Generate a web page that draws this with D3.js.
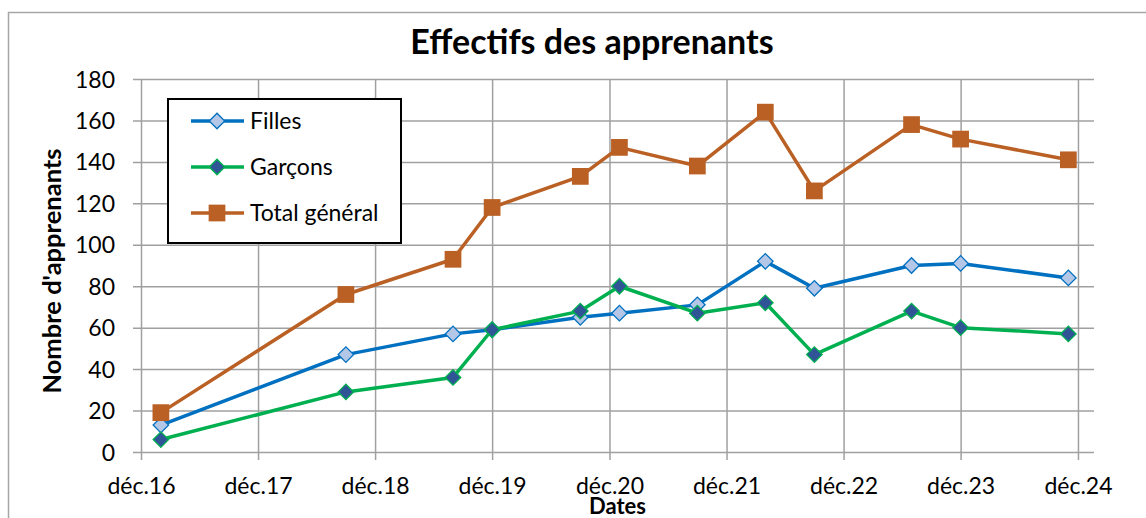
<!DOCTYPE html>
<html>
<head>
<meta charset="utf-8">
<script src="https://cdn.jsdelivr.net/npm/d3@7"></script>
<style>
  body { margin: 0; background: #fff; }
  text { font-family: Lato, "Open Sans", sans-serif; fill: #000; }
</style>
</head>
<body>
<svg id="chart" width="1146" height="518"></svg>
<script>
// data
const dates = ["2017-02-01", "2018-09-01", "2019-08-01", "2019-12-01", "2020-09-01", "2021-01-01",
               "2021-09-01", "2022-04-01", "2022-09-01", "2023-07-01", "2023-12-01", "2024-11-01"];
const filles  = [13, 47, 57, 59, 65, 67, 71, 92, 79, 90, 91, 84];
const garcons = [6, 29, 36, 59, 68, 80, 67, 72, 47, 68, 60, 57];
const total   = [19, 76, 93, 118, 133, 147, 138, 164, 126, 158, 151, 141];

const xTickDates  = ["2016-12-01", "2017-12-01", "2018-12-01", "2019-12-01", "2020-12-01",
                     "2021-12-01", "2022-12-01", "2023-12-01", "2024-12-01"];
const xTickLabels = ["déc.16", "déc.17", "déc.18", "déc.19", "déc.20", "déc.21", "déc.22", "déc.23", "déc.24"];
const yTicks = [0, 20, 40, 60, 80, 100, 120, 140, 160, 180];

const parse = d3.timeParse("%Y-%m-%d");

var svg = d3.select("#chart"),
    margin = {top: 79, right: 52, bottom: 66, left: 141},
    width = +svg.attr("width") - margin.left - margin.right,
    height = +svg.attr("height") - margin.top - margin.bottom;

// outer chart border (runs off the right and bottom of the crop)
svg.append("rect")
    .attr("x", 8.5).attr("y", 12.5)
    .attr("width", 1200).attr("height", 600)
    .attr("fill", "#fff")
    .attr("stroke", "#a6a6a6")
    .attr("stroke-width", 1.5);

svg.append("text")
    .attr("x", 592)
    .attr("y", 54)
    .attr("text-anchor", "middle")
    .style("font-size", "34px")
    .style("font-weight", "bold")
    .text("Effectifs des apprenants");

var xScale = d3.scaleTime()
    .domain([parse("2016-12-01"), parse("2025-01-20")])
    .range([0, width]);
var yScale = d3.scaleLinear().domain([0, 180]).range([height, 0]);

var g = svg.append("g").attr("transform", "translate(" + margin.left + "," + margin.top + ")");

// gridlines (they poke 8px outside the plot as tick marks)
g.append("g")
    .attr("transform", "translate(0," + height + ")")
    .call(d3.axisBottom(xScale)
        .tickValues(xTickDates.map(parse))
        .tickSize(-(height + 8))
        .tickSizeOuter(0)
        .tickFormat((d, i) => xTickLabels[i]))
    .call(ax => ax.select(".domain").remove())
    .call(ax => ax.selectAll(".tick line")
        .attr("y1", 8)
        .attr("y2", -height)
        .attr("stroke", "#a0a0a0")
        .attr("stroke-width", 1.5))
    .call(ax => ax.selectAll(".tick text")
        .attr("y", 42)
        .attr("dy", 0)
        .style("font-size", "23px")
        .style("font-family", "Lato, sans-serif")
        .attr("fill", "#000"));

g.append("g")
    .call(d3.axisLeft(yScale)
        .tickValues(yTicks)
        .tickSize(-(width + 8))
        .tickSizeOuter(0))
    .call(ax => ax.select(".domain").remove())
    .call(ax => ax.selectAll(".tick line")
        .attr("x1", -8)
        .attr("x2", width)
        .attr("stroke", "#a0a0a0")
        .attr("stroke-width", 1.5))
    .call(ax => ax.selectAll(".tick text")
        .attr("x", -26)
        .attr("dy", "0.35em")
        .style("font-size", "23px")
        .style("font-family", "Lato, sans-serif")
        .attr("fill", "#000"));

svg.append("text")
    .attr("transform", "translate(52,271) rotate(-90)")
    .attr("text-anchor", "middle")
    .attr("dy", "0.35em")
    .style("font-size", "25.5px")
    .style("font-weight", "bold")
    .text("Nombre d'apprenants");

svg.append("text")
    .attr("x", margin.left + width / 2)
    .attr("y", 514)
    .attr("text-anchor", "middle")
    .style("font-size", "22px")
    .style("font-weight", "bold")
    .text("Dates");

const series = [
    {name: "Filles", values: filles, line: "#0070c0", shape: "diamond", fill: "#b4c7e7", stroke: "#0070c0"},
    {name: "Garçons", values: garcons, line: "#00b050", shape: "diamond", fill: "#2f5597", stroke: "#00b050"},
    {name: "Total général", values: total, line: "#ba6024", shape: "square", fill: "#ba6024", stroke: "none"}
];

const diamond = d3.symbol(d3.symbolSquare, 120)();
const square = d3.symbol(d3.symbolSquare, 280)();

function marker(sel, s) {
    sel.append("path")
        .attr("d", s.shape == "diamond" ? diamond : square)
        .attr("transform", s.shape == "diamond" ? "rotate(45)" : null)
        .attr("fill", s.fill)
        .attr("stroke", s.stroke)
        .attr("stroke-width", s.shape == "diamond" ? 1.3 : 0);
}

var line = d3.line()
    .x((d, i) => xScale(parse(dates[i])))
    .y(d => yScale(d));

series.forEach(s => {
    g.append("path")
        .datum(s.values)
        .attr("fill", "none")
        .attr("stroke", s.line)
        .attr("stroke-width", 3.5)
        .attr("stroke-linejoin", "round")
        .attr("d", line);

    g.selectAll(null)
        .data(s.values)
        .enter().append("g")
        .attr("transform", (d, i) => "translate(" + xScale(parse(dates[i])) + "," + yScale(d) + ")")
        .each(function() { marker(d3.select(this), s); });
});

// legend
var legend = svg.append("g").attr("transform", "translate(168,99)");
legend.append("rect")
    .attr("width", 233).attr("height", 144)
    .attr("fill", "#fff")
    .attr("stroke", "#000")
    .attr("stroke-width", 2);

series.forEach((s, i) => {
    var row = legend.append("g").attr("transform", "translate(0," + (22 + i * 46) + ")");
    row.append("line")
        .attr("x1", 23).attr("x2", 76)
        .attr("stroke", s.line)
        .attr("stroke-width", 3.5);
    var m = row.append("g").attr("transform", "translate(49,0)");
    marker(m, s);
    row.append("text")
        .attr("x", 82)
        .attr("dy", "0.35em")
        .style("font-size", "23px")
        .text(s.name);
});
</script>
</body>
</html>
